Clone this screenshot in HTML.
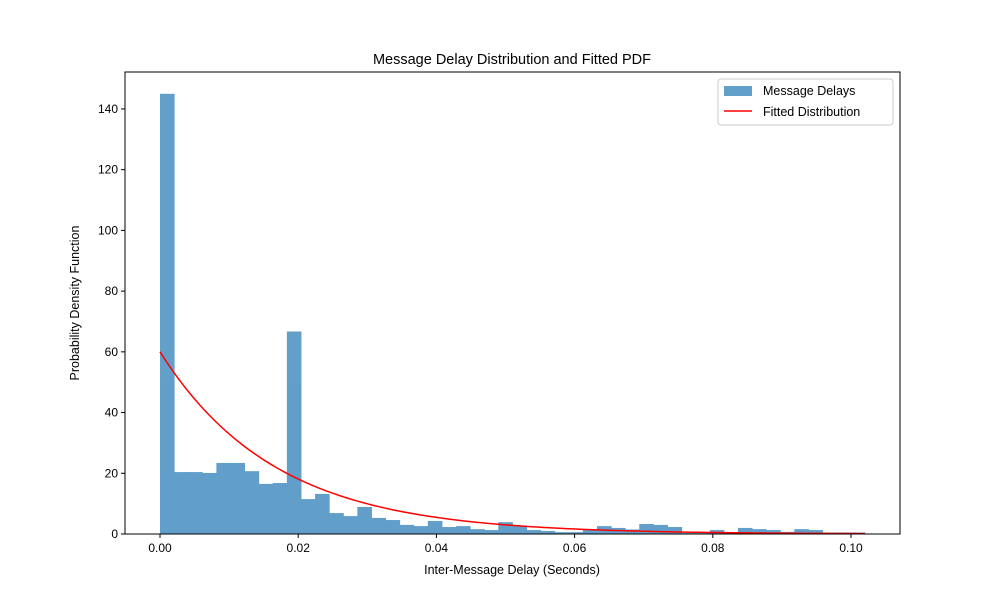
<!DOCTYPE html>
<html><head><meta charset="utf-8"><style>body{margin:0;background:#fff}svg text{font-family:"Liberation Sans","DejaVu Sans",sans-serif}</style></head>
<body>
<svg id="chart" width="1000" height="600" xmlns="http://www.w3.org/2000/svg"><g id="bars" opacity="0.7"></g></svg>
<script>
const binValues=[145,20.4,20.4,20.1,23.4,23.4,20.7,16.5,16.8,66.7,11.5,13.2,6.9,5.9,8.9,5.3,4.6,3,2.6,4.3,2.3,2.6,1.6,1.3,3.9,2.8,1.3,1,0.6,0.6,1.3,2.6,2,1.5,3.3,3,2.3,0.3,0.3,1.3,0.5,2,1.6,1.3,0.7,1.6,1.3,0.5,0.5,0.5];
const binStart=0, binEnd=0.102;
const xTicks=[0,0.02,0.04,0.06,0.08,0.1];
const xTickLabels=["0.00","0.02","0.04","0.06","0.08","0.10"];
const yTicks=[0,20,40,60,80,100,120,140];
const pdfAmp=[60], pdfMean=[0.0167];
const NS="http://www.w3.org/2000/svg";
const svg=document.getElementById('chart');
const barsG=document.getElementById('bars');
const L=125,R=900,T=72,B=534;
const xs=v=>160+v*6910;
const ys=v=>B-v*3.036;
function mk(t,a,p){const e=document.createElementNS(NS,t);for(const k in a)e.setAttribute(k,a[k]);(p||svg).appendChild(e);return e;}
const bw=(binEnd-binStart)/binValues.length;
binValues.forEach((v,i)=>{const x0=xs(binStart+i*bw),x1=xs(binStart+(i+1)*bw);
const r=mk('rect',{x:x0,y:ys(v),width:x1-x0+0.5,height:B-ys(v),fill:'#1f77b4'},barsG);

});
let d='';for(let i=0;i<=200;i++){const x=binEnd*i/200;const y=pdfAmp[0]*Math.exp(-x/pdfMean[0]);d+=(i?'L':'M')+xs(x)+','+ys(y);}
const pl=mk('path',{d:d,fill:'none',stroke:'#ff0000','stroke-width':1.5});


const ax=mk('rect',{x:L,y:T,width:R-L,height:B-T,fill:'none',stroke:'#000','stroke-width':1});


xTicks.forEach((v,i)=>{mk('line',{x1:xs(v),x2:xs(v),y1:B,y2:B+4,stroke:'#000'});
const t=mk('text',{x:xs(v),y:B+18,'font-size':12,'text-anchor':'middle'});t.textContent=xTickLabels[i];

});
yTicks.forEach(v=>{mk('line',{x1:L-4,x2:L,y1:ys(v),y2:ys(v),stroke:'#000'});
const t=mk('text',{x:L-7,y:ys(v)+4,'font-size':12,'text-anchor':'end'});t.textContent=v;

});
</script>
<svg style="position:absolute;left:0;top:0" width="1000" height="600">
<text x="512" y="64" font-size="14.5" text-anchor="middle">Message Delay Distribution and Fitted PDF</text>
<text x="512" y="574" font-size="12.5" text-anchor="middle">Inter-Message Delay (Seconds)</text>
<text transform="translate(79,303) rotate(-90)" font-size="12.5" text-anchor="middle">Probability Density Function</text>
<g>
<rect x="718" y="79" width="175" height="46" rx="3" fill="#fff" stroke="#ccc"/>
<rect x="724" y="86" width="28" height="10" fill="#1f77b4" fill-opacity="0.7"/>
<text x="763" y="95" font-size="12.5">Message Delays</text>
<line x1="724" y1="111" x2="752" y2="111" stroke="#f00" stroke-width="1.5"/>
<text x="763" y="116" font-size="12.5">Fitted Distribution</text>
</g>
</svg>
</body></html>
